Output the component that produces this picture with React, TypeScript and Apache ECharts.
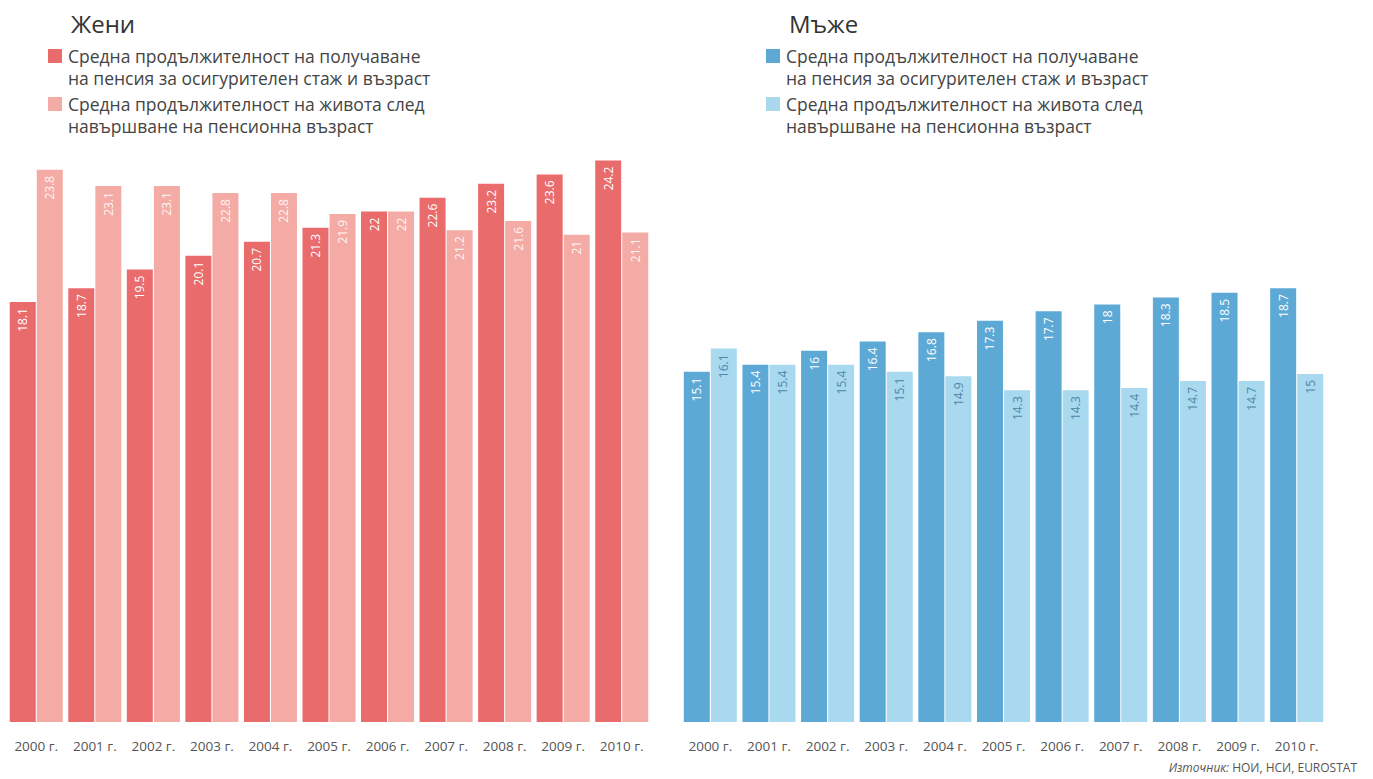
import React, { useEffect, useRef } from "react";
import * as echarts from "echarts";

const years = ["2000 г.", "2001 г.", "2002 г.", "2003 г.", "2004 г.", "2005 г.", "2006 г.", "2007 г.", "2008 г.", "2009 г.", "2010 г."];
const womenPension = [18.1, 18.7, 19.5, 20.1, 20.7, 21.3, 22, 22.6, 23.2, 23.6, 24.2];
const womenLife = [23.8, 23.1, 23.1, 22.8, 22.8, 21.9, 22, 21.2, 21.6, 21, 21.1];
const menPension = [15.1, 15.4, 16, 16.4, 16.8, 17.3, 17.7, 18, 18.3, 18.5, 18.7];
const menLife = [16.1, 15.4, 15.4, 15.1, 14.9, 14.3, 14.3, 14.4, 14.7, 14.7, 15];

const legend1 = ["Средна продължителност на получаване", "на пенсия за осигурителен стаж и възраст"];
const legend2 = ["Средна продължителност на живота след", "навършване на пенсионна възраст"];

const C = {
  wDark: "#e96b6c",
  wLight: "#f5aba5",
  mDark: "#5ca9d5",
  mLight: "#a8d9ee",
};

const FONT = "Open Sans";

export default function App() {
  const ref = useRef<HTMLDivElement>(null);
  useEffect(() => {
    if (!ref.current) return;
    const chart = echarts.init(ref.current, null, { renderer: "svg" });
    const label = (color: string) => ({
      show: true,
      position: "insideTop",
      rotate: 90,
      align: "right",
      verticalAlign: "middle",
      distance: 6,
      color,
      fontSize: 12,
      fontFamily: FONT,
    });
    const line = (x: number, cy: number, text: string) => ({
      type: "text", x, y: cy,
      style: { text, fill: "#444", font: `17.5px "${FONT}"`, verticalAlign: "middle", align: "left" },
    });
    const legendBlock = (x: number, dark: string, light: string) => [
      { type: "rect", left: x, top: 49, shape: { width: 14, height: 14 }, style: { fill: dark } },
      line(x + 20, 56, legend1[0]),
      line(x + 20, 78, legend1[1]),
      { type: "rect", left: x, top: 97, shape: { width: 14, height: 14 }, style: { fill: light } },
      line(x + 20, 104, legend2[0]),
      line(x + 20, 126, legend2[1]),
    ];
    const xAxisBase = {
      type: "category",
      data: years,
      axisLine: { show: false },
      axisTick: { show: false },
      axisLabel: { color: "#555", fontSize: 13.5, fontFamily: FONT, margin: 17 },
    };
    const yAxisBase = {
      type: "value",
      min: 0,
      max: 25,
      show: false,
      splitLine: { show: false },
    };
    chart.setOption({
      animation: false,
      backgroundColor: "#ffffff",
      title: [
        { text: "Жени", left: 66, top: 6, textStyle: { fontFamily: FONT, fontSize: 24, fontWeight: "normal", color: "#333" } },
        { text: "Мъже", left: 784, top: 6, textStyle: { fontFamily: FONT, fontSize: 24, fontWeight: "normal", color: "#333" } },
        {
          text: "{i|Източник:} НОИ, НСИ, EUROSTAT",
          right: 11, top: 756,
          textStyle: {
            fontFamily: FONT, fontSize: 12, fontWeight: "normal", color: "#555",
            rich: { i: { fontStyle: "italic", fontFamily: FONT, fontSize: 12, color: "#555" } },
          },
        },
      ],
      grid: [
        { left: 7, width: 644, top: 142, height: 580 },
        { left: 681, width: 645, top: 142, height: 580 },
      ],
      xAxis: [
        { ...xAxisBase, gridIndex: 0 },
        { ...xAxisBase, gridIndex: 1 },
      ],
      yAxis: [
        { ...yAxisBase, gridIndex: 0 },
        { ...yAxisBase, gridIndex: 1 },
      ],
      series: [
        {
          name: "Жени: " + legend1.join(" "), type: "bar", xAxisIndex: 0, yAxisIndex: 0,
          data: womenPension, barWidth: 26, barGap: "4%",
          itemStyle: { color: C.wDark }, label: label("#ffffff"),
        },
        {
          name: "Жени: " + legend2.join(" "), type: "bar", xAxisIndex: 0, yAxisIndex: 0,
          data: womenLife, barWidth: 26, barGap: "4%",
          itemStyle: { color: C.wLight }, label: label("rgba(255,255,255,0.9)"),
        },
        {
          name: "Мъже: " + legend1.join(" "), type: "bar", xAxisIndex: 1, yAxisIndex: 1,
          data: menPension, barWidth: 26, barGap: "4%",
          itemStyle: { color: C.mDark }, label: label("#ffffff"),
        },
        {
          name: "Мъже: " + legend2.join(" "), type: "bar", xAxisIndex: 1, yAxisIndex: 1,
          data: menLife, barWidth: 26, barGap: "4%",
          itemStyle: { color: C.mLight }, label: label("#4f86a8"),
        },
      ],
      graphic: [...legendBlock(48, C.wDark, C.wLight), ...legendBlock(766, C.mDark, C.mLight)],
    });
    return () => chart.dispose();
  }, []);
  return <div ref={ref} style={{ position: "absolute", left: 0, top: 0, width: 1373, height: 779 }} />;
}
